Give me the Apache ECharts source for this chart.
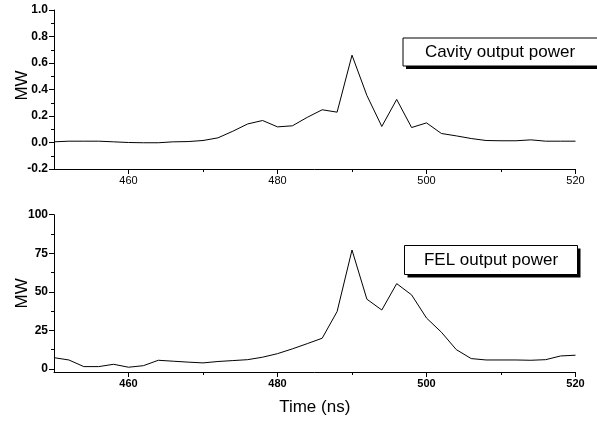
<!DOCTYPE html>
<html>
<head>
<meta charset="utf-8">
<script src="https://cdn.jsdelivr.net/npm/echarts@6/dist/echarts.min.js"></script>
<style>html,body{margin:0;padding:0;background:#fff}#c{width:597px;height:423px}</style>
</head>
<body>
<div id="c"></div>
<script>
// Time axis (ns)
var times = [450,452,454,456,458,460,462,464,466,468,470,472,474,476,478,480,482,484,486,488,490,492,494,496,498,500,502,504,506,508,510,512,514,516,518,520];
// Cavity output power (MW)
var cavity = [0.005,0.01,0.01,0.01,0.005,0.0,-0.002,-0.002,0.005,0.007,0.015,0.035,0.085,0.14,0.166,0.118,0.126,0.19,0.247,0.229,0.659,0.355,0.121,0.325,0.113,0.148,0.068,0.05,0.03,0.015,0.013,0.013,0.02,0.01,0.01,0.01];
// FEL output power (MW)
var fel = [7.3,5.8,1.5,1.5,3.0,1.1,2.1,5.6,5.0,4.4,3.9,4.8,5.4,6.0,7.6,9.9,13.0,16.4,19.9,37.2,77.1,45.2,38.2,55.3,48.0,33.0,23.8,12.5,6.7,5.8,5.8,5.8,5.6,6.0,8.4,8.9];
var xMajor = [460,480,500,520];
var xMinor = [470,490,510];
var felMajor = [0,25,50,75,100];
var felMinor = [12.5,37.5,62.5,87.5];
var cavityName = 'Cavity output power';
var felName = 'FEL output power';
var timeName = 'Time (ns)';
var yName = 'MW';

var FONT = '"Liberation Sans", Arial, sans-serif';
function pairs(xs, ys){ return xs.map(function(x,i){return [x, ys[i]];}); }

function mainX(grid, bold, name){
  return {
    type:'value', gridIndex:grid, min:450, max:520, position:'bottom',
    axisLine:{show:true, onZero:false, lineStyle:{color:'#000', width:1}},
    axisTick:{show:true, customValues:xMajor, length:5, lineStyle:{color:'#000'}},
    axisLabel:{show:true, customValues:xMajor, color:'#000', fontFamily:FONT, fontSize:11, fontWeight:bold?'bold':'normal', margin:6},
    splitLine:{show:false},
    name:name||'', nameLocation:'middle', nameGap:27,
    nameTextStyle:{color:'#000', fontFamily:FONT, fontSize:17}
  };
}
function minorX(grid){
  return {
    type:'value', gridIndex:grid, min:450, max:520, position:'bottom',
    axisLine:{show:false, onZero:false},
    axisTick:{show:true, customValues:xMinor, length:3, lineStyle:{color:'#000'}},
    axisLabel:{show:false}, splitLine:{show:false}
  };
}

var option = {
  animation:false,
  backgroundColor:'#fff',
  grid:[
    {left:54, right:21.5, top:10, bottom:254, containLabel:false, outerBoundsMode:'none'},
    {left:54, right:21.5, top:214.7, bottom:51, containLabel:false, outerBoundsMode:'none'}
  ],
  xAxis:[ mainX(0,false), minorX(0), mainX(1,true,timeName), minorX(1) ],
  yAxis:[
    {
      type:'value', gridIndex:0, min:-0.2, max:1.0, interval:0.2, position:'left',
      axisLine:{show:true, onZero:false, lineStyle:{color:'#000'}},
      axisTick:{show:true, length:5, lineStyle:{color:'#000'}},
      minorTick:{show:true, splitNumber:2, length:3, lineStyle:{color:'#000'}},
      axisLabel:{color:'#000', fontFamily:FONT, fontSize:12, fontWeight:'bold', margin:6,
        formatter:function(v){return v.toFixed(1);}},
      splitLine:{show:false},
      name:yName, nameLocation:'middle', nameGap:23, nameMoveOverlap:false,
      nameTextStyle:{color:'#000', fontFamily:FONT, fontSize:17, padding:[0,0,0,8]}
    },
    {
      type:'value', gridIndex:1, min:-2, max:100, position:'left',
      axisLine:{show:true, onZero:false, lineStyle:{color:'#000'}},
      axisTick:{show:true, customValues:felMajor, length:5, lineStyle:{color:'#000'}},
      axisLabel:{customValues:felMajor, color:'#000', fontFamily:FONT, fontSize:12, fontWeight:'bold', margin:6},
      splitLine:{show:false},
      name:yName, nameLocation:'middle', nameGap:23, nameMoveOverlap:false,
      nameTextStyle:{color:'#000', fontFamily:FONT, fontSize:17}
    },
    {
      type:'value', gridIndex:1, min:-2, max:100, position:'left',
      axisLine:{show:false, onZero:false},
      axisTick:{show:true, customValues:felMinor, length:3, lineStyle:{color:'#000'}},
      axisLabel:{show:false}, splitLine:{show:false}
    }
  ],
  series:[
    {type:'line', name:cavityName, xAxisIndex:0, yAxisIndex:0, data:pairs(times,cavity),
     showSymbol:false, lineStyle:{color:'#000', width:1}, itemStyle:{color:'#000'}},
    {type:'line', name:felName, xAxisIndex:2, yAxisIndex:1, data:pairs(times,fel),
     showSymbol:false, lineStyle:{color:'#000', width:1}, itemStyle:{color:'#000'}}
  ],
  graphic:[
    {type:'rect', shape:{x:406, y:41, width:196, height:28}, style:{fill:'#000'}},
    {type:'rect', shape:{x:403, y:38, width:196, height:28}, style:{fill:'#fff', stroke:'#000', lineWidth:1}},
    {type:'text', x:500, y:52, style:{text:cavityName, fill:'#000', font:'17px '+FONT, align:'center', verticalAlign:'middle'}},
    {type:'rect', shape:{x:407.5, y:248.5, width:173, height:29}, style:{fill:'#000'}},
    {type:'rect', shape:{x:404.5, y:245.5, width:173, height:29}, style:{fill:'#fff', stroke:'#000', lineWidth:1}},
    {type:'text', x:491, y:260, style:{text:felName, fill:'#000', font:'17px '+FONT, align:'center', verticalAlign:'middle'}}
  ]
};
var chart = echarts.init(document.getElementById('c'), null, {renderer:'canvas'});
chart.setOption(option);
</script>
</body>
</html>
